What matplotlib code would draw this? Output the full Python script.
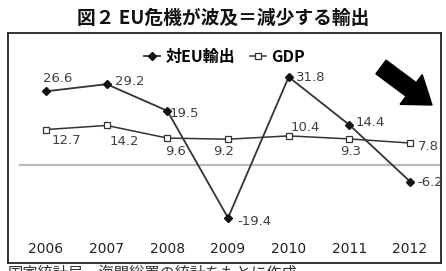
import matplotlib
matplotlib.use("Agg")
import matplotlib.pyplot as plt
import matplotlib.patches as mpatches

plt.rcParams['font.family'] = ['Noto Sans CJK JP', 'DejaVu Sans']

years = [2006, 2007, 2008, 2009, 2010, 2011, 2012]
year_labels = ['2006', '2007', '2008', '2009', '2010', '2011', '2012']
eu_exports = [26.6, 29.2, 19.5, -19.4, 31.8, 14.4, -6.2]
gdp = [12.7, 14.2, 9.6, 9.2, 10.4, 9.3, 7.8]
title = '図２ EU危機が波及＝減少する輸出'
series_names = ['対EU輸出', 'GDP']
source = '国家統計局、海関総署の統計をもとに作成'

W, H = 446, 271
fig = plt.figure(figsize=(W / 100, H / 100), dpi=100)
fig.patch.set_facecolor('white')

# box in pixel coords: x 8..441, y 33..263 (from top)
ax = fig.add_axes([8 / W, 1 - 263 / H, (441 - 8) / W, (263 - 33) / H])
ax.set_xlim(2005.374, 2012.51)
ax.set_ylim(-35.8, 47.8)
for s in ax.spines.values():
    s.set_linewidth(1.3)
    s.set_color('#222222')

ax.axhline(0, xmin=0.028, xmax=1, color='#bbbbbb', lw=1.6, zorder=1)

line_col = '#333333'
ax.plot(years, eu_exports, color=line_col, lw=1.3, marker='D', ms=3.6,
        mfc='#111111', mec='#111111', zorder=3, label=series_names[0])
ax.plot(years, gdp, color=line_col, lw=1.1, marker='s', ms=4.2,
        mfc='white', mec='#333333', mew=0.9, zorder=3, label=series_names[1])

txt_col = '#404040'
fs = 9.5
px = 0.72  # pixels -> points
eu_off = [(11.5, 13), (23, 3), (17, -3), (26, -4), (22, 0), (21, 2), (20, -1)]
gdp_off = [(20, -11), (18, -16), (8, -13), (-4, -12), (17, 8), (1, -13), (18, -3)]
for x, v, (dx, dy) in zip(years, eu_exports, eu_off):
    ax.annotate(f'{v}', (x, v), xytext=(dx * px, dy * px), textcoords='offset points',
                fontsize=fs, color=txt_col, family='DejaVu Sans',
                ha='center', va='center')
for x, v, (dx, dy) in zip(years, gdp, gdp_off):
    ax.annotate(f'{v}', (x, v), xytext=(dx * px, dy * px), textcoords='offset points',
                fontsize=fs, color=txt_col, family='DejaVu Sans',
                ha='center', va='center')

ax.set_xticks(years)
ax.set_xticklabels(year_labels, fontsize=10, color='#222222', family='DejaVu Sans')
ax.tick_params(axis='x', length=0, pad=-15)
ax.set_yticks([])

leg = ax.legend(loc='upper center', bbox_to_anchor=(0.5, 0.995), ncol=2,
                frameon=False, handlelength=1.0, handletextpad=0.35,
                columnspacing=0.9, prop={'weight': 'bold', 'size': 11.5})

fig.text(223 / W, 1 - 18 / H, title, ha='center', va='center',
         fontsize=13.5, fontweight='bold', color='#111111')

# decorative arrow (figure pixels)
arrow = mpatches.FancyArrow(381, H - 67, 51, -38, width=17, head_width=37,
                            head_length=26, length_includes_head=True,
                            color='black', transform=None)
fig.patches.append(arrow)

fig.text(8 / W, 1 - 265 / H, source, ha='left', va='top', fontsize=11,
         color='#333333')

fig.savefig('out.png', dpi=100)
